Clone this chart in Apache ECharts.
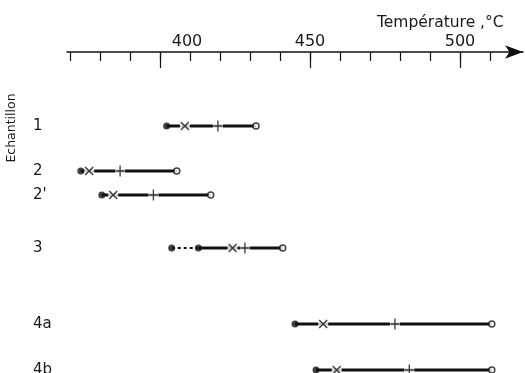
<!DOCTYPE html>
<html>
<head>
<meta charset="utf-8">
<script src="https://cdn.jsdelivr.net/npm/echarts@6/dist/echarts.min.js"></script>
<style>
  html, body { margin: 0; padding: 0; background: #fff; }
  #chart { width: 525px; height: 373px; }
</style>
</head>
<body>
<div id="chart"></div>
<script>
// échantillons et position verticale de chaque ligne
const samples = ['1', '2', "2'", '3', '4a', '4b']
const rowPos = [7.4, 11.9, 14.3, 19.6, 27.2, 31.8]

// températures (°C)
const amorce = [null, null, null, 403.9, null, null] // point pointillé (échantillon 3)
const debut = [402.2, 373.6, 380.6, 412.8, 445, 452]
const croix = [408.3, 376.4, 384.4, 424.2, 454.4, 458.9]
const plus = [419.3, 386.7, 397.8, 428.3, 478.3, 483.1]
const fin = [432, 405.6, 416.9, 440.9, 510.6, 510.6]

// graduations de l'axe
const minorTicks = [370, 380, 390, 400, 410, 420, 430, 440, 450, 460, 470, 480, 490, 500, 510]
const majorTicks = [400, 450, 500]

const ink = '#111'
const font = 'DejaVu Sans'

const chart = echarts.init(document.getElementById('chart'))

const pts = arr => arr.map((v, i) => v == null ? null : [v, rowPos[i]]).filter(Boolean)

const series = []

// traits épais de chaque échantillon
samples.forEach((s, i) => {
  series.push({
    type: 'line',
    data: [[debut[i], rowPos[i]], [fin[i], rowPos[i]]],
    symbol: 'none',
    lineStyle: { color: ink, width: 2.8 },
    z: 2,
    clip: false
  })
  if (amorce[i] != null) {
    series.push({
      type: 'line',
      data: [[amorce[i], rowPos[i]], [debut[i], rowPos[i]]],
      symbol: 'none',
      lineStyle: { color: ink, width: 2, type: [3, 3] },
      z: 2,
      clip: false
    })
  }
})

// blancs autour des croix et des plus
series.push({
  type: 'scatter',
  data: pts(croix).concat(pts(plus)),
  symbol: 'rect',
  symbolSize: [10, 11],
  itemStyle: { color: '#fff' },
  z: 3,
  clip: false
})

series.push({
  type: 'scatter',
  data: pts(debut).concat(pts(amorce)),
  symbol: 'circle',
  symbolSize: 7,
  itemStyle: { color: ink },
  z: 4,
  clip: false
})

series.push({
  type: 'scatter',
  data: pts(croix),
  symbol: 'path://M0,0L10,10M10,0L0,10',
  symbolSize: [8, 8],
  itemStyle: { color: 'none', borderColor: ink, borderWidth: 1.5 },
  z: 4,
  clip: false
})

series.push({
  type: 'scatter',
  data: pts(plus),
  symbol: 'path://M5,0L5,12M0,6L10,6',
  symbolSize: [9, 11],
  itemStyle: { color: 'none', borderColor: ink, borderWidth: 1.5 },
  z: 4,
  clip: false
})

series.push({
  type: 'scatter',
  data: pts(fin),
  symbol: 'circle',
  symbolSize: 6,
  itemStyle: { color: '#fff', borderColor: ink, borderWidth: 1.5 },
  z: 4,
  clip: false
})

chart.setOption({
  animation: false,
  backgroundColor: '#fff',
  title: {
    text: 'Température ,°C',
    left: 372,
    top: 10,
    textStyle: { fontFamily: font, fontSize: 15.5, fontWeight: 'normal', color: '#1a1a1a' }
  },
  graphic: [{
    type: 'text',
    x: 12,
    y: 128,
    rotation: Math.PI / 2,
    style: {
      text: 'Echantillon',
      font: '12.5px "DejaVu Sans"',
      fill: '#1a1a1a',
      textAlign: 'center',
      textVerticalAlign: 'middle'
    }
  }],
  grid: { left: 67, right: 2, top: 52, bottom: 1, outerBoundsMode: 'none' },
  xAxis: [{
    type: 'value',
    position: 'top',
    min: 369,
    max: 521,
    axisLine: {
      show: true,
      symbol: ['none', 'arrow'],
      symbolSize: [10, 18],
      lineStyle: { color: ink, width: 1.5 }
    },
    axisTick: {
      show: true,
      inside: true,
      length: 9,
      customValues: minorTicks,
      lineStyle: { color: ink, width: 1.2 }
    },
    axisLabel: {
      show: true,
      customValues: majorTicks,
      margin: 2,
      fontFamily: font,
      fontSize: 16,
      color: '#1a1a1a',
      // le « 400 » est décalé vers la droite sur la figure
      formatter: v => v === 400 ? '{d|400}' : String(v),
      rich: { d: { fontFamily: font, fontSize: 16, color: '#1a1a1a', padding: [0, 0, 0, 54] } }
    },
    splitLine: { show: false }
  }, {
    type: 'value',
    position: 'top',
    min: 369,
    max: 521,
    axisLine: { show: false },
    axisTick: {
      show: true,
      inside: true,
      length: 16,
      customValues: majorTicks,
      lineStyle: { color: ink, width: 1.2 }
    },
    axisLabel: { show: false },
    splitLine: { show: false }
  }],
  yAxis: {
    type: 'value',
    inverse: true,
    min: 0,
    max: 32,
    axisLine: { show: false },
    axisTick: { show: false },
    splitLine: { show: false },
    axisLabel: {
      show: true,
      customValues: rowPos,
      align: 'left',
      margin: 34,
      padding: [0, 0, 8, 0],
      fontFamily: font,
      fontSize: 15,
      color: '#1a1a1a',
      formatter: v => samples[rowPos.indexOf(v)]
    }
  },
  series: series
})
</script>
</body>
</html>
